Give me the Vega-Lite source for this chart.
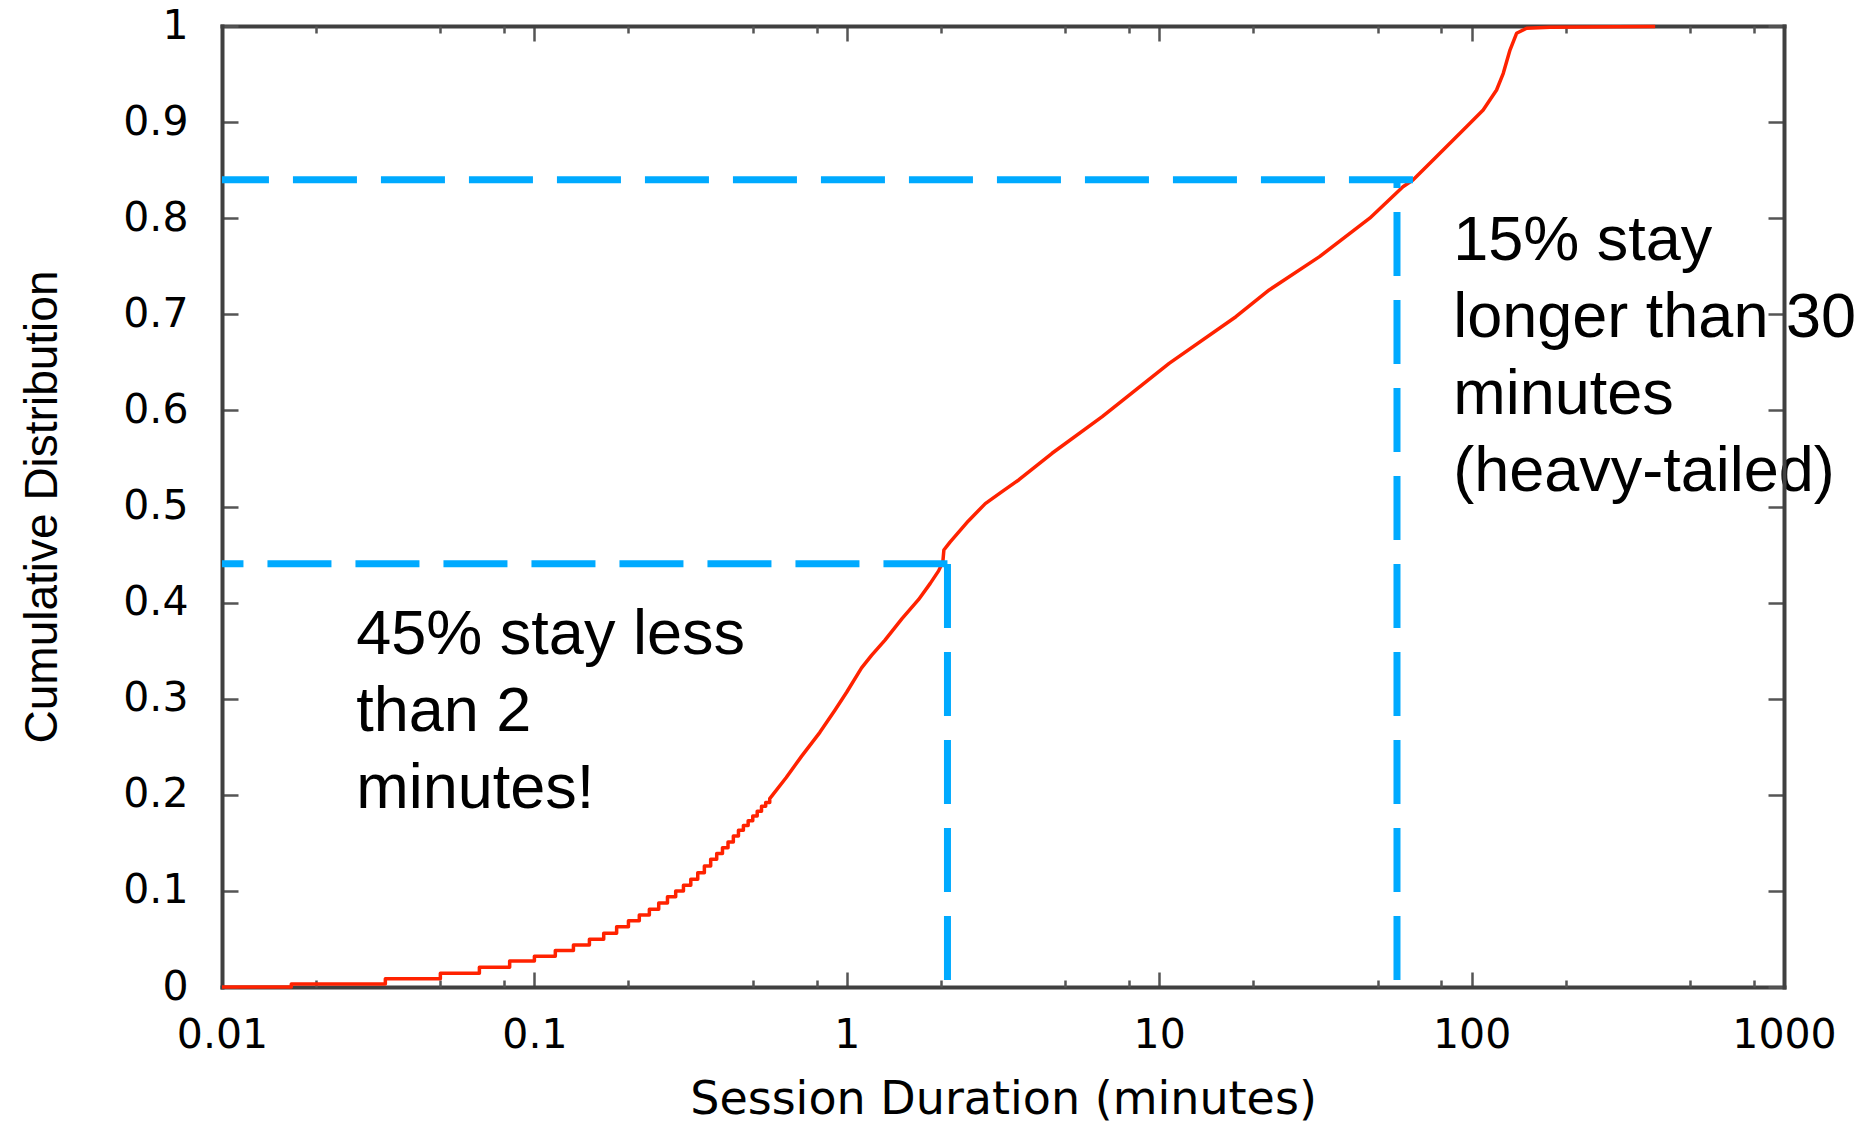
{
  "$schema": "https://vega.github.io/schema/vega-lite/v6.json",
  "autosize": {"type": "none"},
  "width": 1562,
  "height": 961,
  "padding": {"left": 222, "top": 26, "right": 89, "bottom": 139},
  "background": "white",
  "datasets": {
    "curve": [
      {"i":0,"minutes":0.01,"cdf":0},
      {"i":1,"minutes":0.016667,"cdf":0},{"i":2,"minutes":0.016667,"cdf":0.003},
      {"i":3,"minutes":0.033333,"cdf":0.003},{"i":4,"minutes":0.033333,"cdf":0.0087},
      {"i":5,"minutes":0.05,"cdf":0.0087},{"i":6,"minutes":0.05,"cdf":0.0142},
      {"i":7,"minutes":0.066667,"cdf":0.0142},{"i":8,"minutes":0.066667,"cdf":0.0205},
      {"i":9,"minutes":0.083333,"cdf":0.0205},{"i":10,"minutes":0.083333,"cdf":0.027},
      {"i":11,"minutes":0.1,"cdf":0.027},{"i":12,"minutes":0.1,"cdf":0.032},
      {"i":13,"minutes":0.116667,"cdf":0.032},{"i":14,"minutes":0.116667,"cdf":0.038},
      {"i":15,"minutes":0.133333,"cdf":0.038},{"i":16,"minutes":0.133333,"cdf":0.0437},
      {"i":17,"minutes":0.15,"cdf":0.0437},{"i":18,"minutes":0.15,"cdf":0.0496},
      {"i":19,"minutes":0.166667,"cdf":0.0496},{"i":20,"minutes":0.166667,"cdf":0.0559},
      {"i":21,"minutes":0.183333,"cdf":0.0559},{"i":22,"minutes":0.183333,"cdf":0.0627},
      {"i":23,"minutes":0.2,"cdf":0.0627},{"i":24,"minutes":0.2,"cdf":0.069},
      {"i":25,"minutes":0.216667,"cdf":0.069},{"i":26,"minutes":0.216667,"cdf":0.075},
      {"i":27,"minutes":0.233333,"cdf":0.075},{"i":28,"minutes":0.233333,"cdf":0.081},
      {"i":29,"minutes":0.25,"cdf":0.081},{"i":30,"minutes":0.25,"cdf":0.0875},
      {"i":31,"minutes":0.266667,"cdf":0.0875},{"i":32,"minutes":0.266667,"cdf":0.094},
      {"i":33,"minutes":0.283333,"cdf":0.094},{"i":34,"minutes":0.283333,"cdf":0.1},
      {"i":35,"minutes":0.3,"cdf":0.1},{"i":36,"minutes":0.3,"cdf":0.106},
      {"i":37,"minutes":0.316667,"cdf":0.106},{"i":38,"minutes":0.316667,"cdf":0.112},
      {"i":39,"minutes":0.333333,"cdf":0.112},{"i":40,"minutes":0.333333,"cdf":0.119},
      {"i":41,"minutes":0.35,"cdf":0.119},{"i":42,"minutes":0.35,"cdf":0.126},
      {"i":43,"minutes":0.366667,"cdf":0.126},{"i":44,"minutes":0.366667,"cdf":0.133},
      {"i":45,"minutes":0.383333,"cdf":0.133},{"i":46,"minutes":0.383333,"cdf":0.139},
      {"i":47,"minutes":0.4,"cdf":0.139},{"i":48,"minutes":0.4,"cdf":0.145},
      {"i":49,"minutes":0.416667,"cdf":0.145},{"i":50,"minutes":0.416667,"cdf":0.151},
      {"i":51,"minutes":0.433333,"cdf":0.151},{"i":52,"minutes":0.433333,"cdf":0.157},
      {"i":53,"minutes":0.45,"cdf":0.157},{"i":54,"minutes":0.45,"cdf":0.163},
      {"i":55,"minutes":0.466667,"cdf":0.163},{"i":56,"minutes":0.466667,"cdf":0.168},
      {"i":57,"minutes":0.483333,"cdf":0.168},{"i":58,"minutes":0.483333,"cdf":0.173},
      {"i":59,"minutes":0.5,"cdf":0.173},{"i":60,"minutes":0.5,"cdf":0.178},
      {"i":61,"minutes":0.516667,"cdf":0.178},{"i":62,"minutes":0.516667,"cdf":0.183},
      {"i":63,"minutes":0.533333,"cdf":0.183},{"i":64,"minutes":0.533333,"cdf":0.188},
      {"i":65,"minutes":0.55,"cdf":0.188},{"i":66,"minutes":0.55,"cdf":0.192},
      {"i":67,"minutes":0.566667,"cdf":0.192},{"i":68,"minutes":0.566667,"cdf":0.196},
      {"i":69,"minutes":0.64,"cdf":0.218},
      {"i":70,"minutes":0.716,"cdf":0.24},
      {"i":71,"minutes":0.82,"cdf":0.265},
      {"i":72,"minutes":0.916,"cdf":0.288},
      {"i":73,"minutes":1.0,"cdf":0.307},
      {"i":74,"minutes":1.115,"cdf":0.332},
      {"i":75,"minutes":1.2,"cdf":0.345},
      {"i":76,"minutes":1.325,"cdf":0.361},
      {"i":77,"minutes":1.5,"cdf":0.383},
      {"i":78,"minutes":1.696,"cdf":0.403},
      {"i":79,"minutes":1.85,"cdf":0.42},
      {"i":80,"minutes":1.967,"cdf":0.433},
      {"i":81,"minutes":2.03,"cdf":0.4426},
      {"i":82,"minutes":2.045,"cdf":0.4547},
      {"i":83,"minutes":2.14,"cdf":0.463},
      {"i":84,"minutes":2.45,"cdf":0.485},
      {"i":85,"minutes":2.775,"cdf":0.503},
      {"i":86,"minutes":3.14,"cdf":0.5155},
      {"i":87,"minutes":3.55,"cdf":0.5276},
      {"i":88,"minutes":4.54,"cdf":0.5554},
      {"i":89,"minutes":6.57,"cdf":0.5935},
      {"i":90,"minutes":10.76,"cdf":0.649},
      {"i":91,"minutes":17.6,"cdf":0.6975},
      {"i":92,"minutes":22.5,"cdf":0.7253},
      {"i":93,"minutes":32.6,"cdf":0.76},
      {"i":94,"minutes":47.2,"cdf":0.8},
      {"i":95,"minutes":60.3,"cdf":0.8328},
      {"i":96,"minutes":64.9,"cdf":0.8397},
      {"i":97,"minutes":75.3,"cdf":0.8606},
      {"i":98,"minutes":96.3,"cdf":0.8952},
      {"i":99,"minutes":108.9,"cdf":0.9126},
      {"i":100,"minutes":120.2,"cdf":0.9334},
      {"i":101,"minutes":126.3,"cdf":0.9508},
      {"i":102,"minutes":132.7,"cdf":0.975},
      {"i":103,"minutes":139.3,"cdf":0.9924},
      {"i":104,"minutes":150,"cdf":0.9976},
      {"i":105,"minutes":178,"cdf":0.9986},
      {"i":106,"minutes":292,"cdf":0.9993},
      {"i":107,"minutes":387,"cdf":0.9995}
    ],
    "hlines": [
      {"from": 64.9, "to": 0.01, "level": 0.84},
      {"from": 2.1, "to": 0.01, "level": 0.4405}
    ],
    "vlines": [
      {"at": 2.1, "from": 0.0073, "to": 0.4405},
      {"at": 57.7, "from": 0.0073, "to": 0.84}
    ],
    "notes": [
      {"note": "45% stay less\nthan 2\nminutes!", "nx": 0.0269, "ny": 0.3465},
      {"note": "15% stay\nlonger than 30\nminutes\n(heavy-tailed)", "nx": 87.3, "ny": 0.7565}
    ]
  },
  "resolve": {"axis": {"x": "independent", "y": "independent"}},
  "layer": [
    {
      "data": {"name": "curve"},
      "mark": {"type": "line", "color": "#ff2200", "strokeWidth": 3.5, "strokeJoin": "round"},
      "encoding": {
        "x": {
          "field": "minutes", "type": "quantitative",
          "scale": {"type": "log", "domain": [0.01, 1000], "nice": false},
          "axis": {
            "orient": "bottom", "values": [0.01, 0.1, 1, 10, 100, 1000], "format": "~g",
            "tickSize": -15, "labelPadding": 43.5, "labelFlush": false, "labelOverlap": false,
            "domain": true, "title": "Session Duration (minutes)",
            "titleFont": "DejaVu Sans", "titleFontSize": 46, "titleBaseline": "alphabetic", "titleY": 126
          }
        },
        "y": {
          "field": "cdf", "type": "quantitative",
          "scale": {"domain": [0, 1], "nice": false, "zero": false},
          "axis": {
            "orient": "left", "values": [0, 0.1, 0.2, 0.3, 0.4, 0.5, 0.6, 0.7, 0.8, 0.9, 1], "format": "~g",
            "tickSize": -16, "labelPadding": 50, "labelOverlap": false, "domain": true,
            "title": "Cumulative Distribution", "titleFont": "Liberation Sans", "titleFontSize": 46,
            "titleBaseline": "alphabetic", "titleX": -166
          }
        },
        "order": {"field": "i", "type": "quantitative"}
      }
    },
    {
      "data": {"name": "hlines"},
      "mark": {"type": "rule", "color": "#00aaff", "strokeWidth": 7, "strokeDash": [64, 24], "strokeCap": "butt"},
      "encoding": {
        "x": {
          "field": "from", "type": "quantitative",
          "scale": {"type": "log", "domain": [0.01, 1000], "nice": false},
          "axis": {
            "orient": "bottom", "values": [0.02, 0.05, 0.08, 0.2, 0.5, 0.8, 2, 5, 8, 20, 50, 80, 200, 500, 800],
            "labels": false, "domain": false, "tickSize": -7, "title": null
          }
        },
        "x2": {"field": "to"},
        "y": {
          "field": "level", "type": "quantitative",
          "scale": {"domain": [0, 1], "nice": false, "zero": false},
          "axis": {
            "orient": "right", "values": [0, 0.1, 0.2, 0.3, 0.4, 0.5, 0.6, 0.7, 0.8, 0.9, 1],
            "labels": false, "domain": true, "tickSize": -16, "title": null, "zindex": 1
          }
        }
      }
    },
    {
      "data": {"name": "vlines"},
      "mark": {"type": "rule", "color": "#00aaff", "strokeWidth": 7, "strokeDash": [64, 24], "strokeCap": "butt"},
      "encoding": {
        "x": {
          "field": "at", "type": "quantitative",
          "scale": {"type": "log", "domain": [0.01, 1000], "nice": false},
          "axis": {
            "orient": "top", "values": [0.01, 0.1, 1, 10, 100, 1000],
            "labels": false, "domain": true, "tickSize": -15, "title": null
          }
        },
        "y": {
          "field": "from", "type": "quantitative",
          "scale": {"domain": [0, 1], "nice": false, "zero": false},
          "axis": null
        },
        "y2": {"field": "to"}
      }
    },
    {
      "data": {"name": "notes"},
      "mark": {"type": "text", "align": "left", "baseline": "alphabetic", "font": "Liberation Sans", "fontSize": 63, "lineHeight": 77, "lineBreak": "\n", "color": "#000000"},
      "encoding": {
        "x": {
          "field": "nx", "type": "quantitative",
          "scale": {"type": "log", "domain": [0.01, 1000], "nice": false},
          "axis": {
            "orient": "top", "values": [0.02, 0.05, 0.08, 0.2, 0.5, 0.8, 2, 5, 8, 20, 50, 80, 200, 500, 800],
            "labels": false, "domain": false, "tickSize": -7, "title": null
          }
        },
        "y": {
          "field": "ny", "type": "quantitative",
          "scale": {"domain": [0, 1], "nice": false, "zero": false},
          "axis": null
        },
        "text": {"field": "note"}
      }
    }
  ],
  "config": {
    "view": {"stroke": null},
    "axis": {
      "grid": false,
      "labelFont": "DejaVu Sans", "labelFontSize": 41, "labelColor": "#000000",
      "titleColor": "#000000", "titleFontWeight": "normal",
      "domainColor": "#404040", "domainWidth": 4, "domainCap": "square",
      "tickColor": "#555555", "tickWidth": 2.5
    }
  }
}
